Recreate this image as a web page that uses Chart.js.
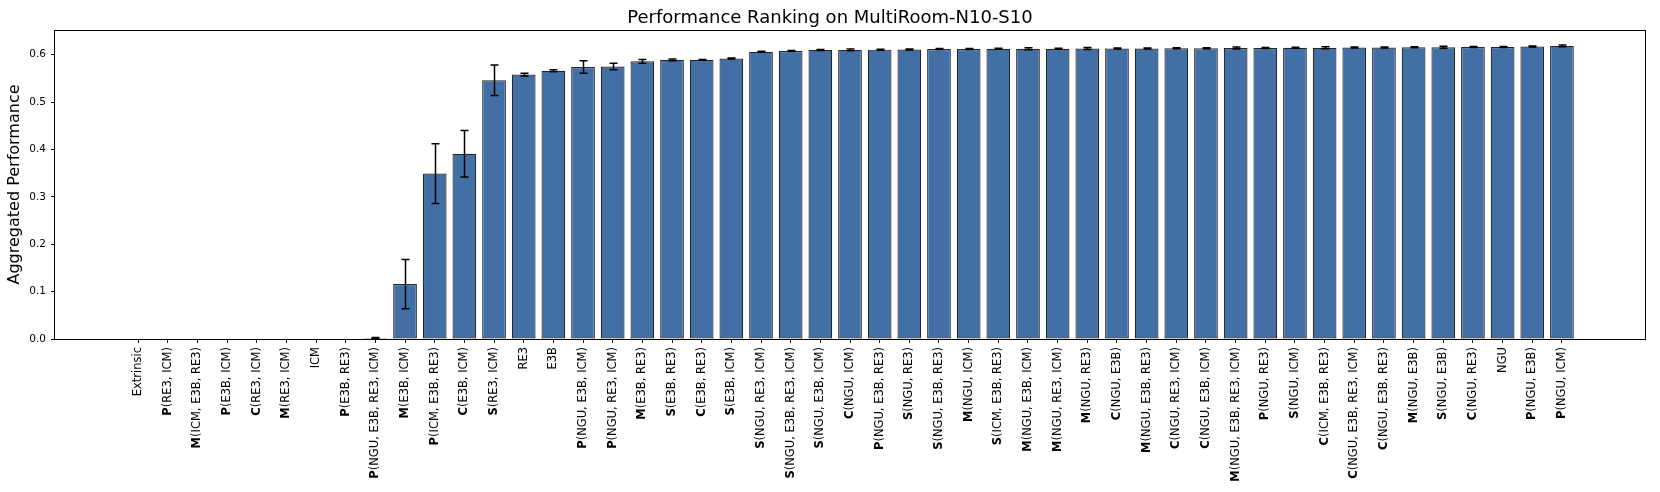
<!doctype html>
<html>
    <head>
        <title>Performance Ranking on MultiRoom-N10-S10</title>
        <script src="https://cdn.jsdelivr.net/npm/chart.js"></script>
        <style>
            body { margin: 0; background: #fff; }
        </style>
    </head>
    <body>
        <canvas id="rankChart" width="1660" height="492"></canvas>
        <script>
            // methods, sorted by aggregated performance
            const methods = [
                "Extrinsic", "P(RE3, ICM)", "M(ICM, E3B, RE3)", "P(E3B, ICM)",
                "C(RE3, ICM)", "M(RE3, ICM)", "ICM", "P(E3B, RE3)",
                "P(NGU, E3B, RE3, ICM)", "M(E3B, ICM)", "P(ICM, E3B, RE3)",
                "C(E3B, ICM)", "S(RE3, ICM)", "RE3", "E3B", "P(NGU, E3B, ICM)",
                "P(NGU, RE3, ICM)", "M(E3B, RE3)", "S(E3B, RE3)", "C(E3B, RE3)",
                "S(E3B, ICM)", "S(NGU, RE3, ICM)", "S(NGU, E3B, RE3, ICM)",
                "S(NGU, E3B, ICM)", "C(NGU, ICM)", "P(NGU, E3B, RE3)",
                "S(NGU, RE3)", "S(NGU, E3B, RE3)", "M(NGU, ICM)",
                "S(ICM, E3B, RE3)", "M(NGU, E3B, ICM)", "M(NGU, RE3, ICM)",
                "M(NGU, RE3)", "C(NGU, E3B)", "M(NGU, E3B, RE3)",
                "C(NGU, RE3, ICM)", "C(NGU, E3B, ICM)", "M(NGU, E3B, RE3, ICM)",
                "P(NGU, RE3)", "S(NGU, ICM)", "C(ICM, E3B, RE3)",
                "C(NGU, E3B, RE3, ICM)", "C(NGU, E3B, RE3)", "M(NGU, E3B)",
                "S(NGU, E3B)", "C(NGU, RE3)", "NGU", "P(NGU, E3B)", "P(NGU, ICM)",
            ];
            const performance = [
                0, 0, 0, 0, 0, 0, 0, 0, 0.002, 0.116,
                0.349, 0.391, 0.546, 0.558, 0.566, 0.574, 0.575, 0.586, 0.589, 0.589,
                0.592, 0.606, 0.6075, 0.61, 0.61, 0.6105, 0.611, 0.612, 0.612, 0.6125,
                0.6125, 0.6125, 0.613, 0.613, 0.613, 0.6135, 0.6135, 0.614, 0.614, 0.6145,
                0.6145, 0.615, 0.615, 0.6155, 0.6155, 0.616, 0.616, 0.617, 0.6185,
            ];
            const errors = [
                0, 0, 0, 0, 0, 0, 0, 0, 0.001, 0.052,
                0.063, 0.049, 0.032, 0.003, 0.002, 0.013, 0.007, 0.004, 0.002, 0.001,
                0.001, 0.001, 0.001, 0.001, 0.002, 0.001, 0.001, 0.001, 0.001, 0.001,
                0.002, 0.001, 0.002, 0.001, 0.001, 0.001, 0.001, 0.002, 0.001, 0.001,
                0.002, 0.001, 0.001, 0.001, 0.002, 0.001, 0.001, 0.001, 0.002,
            ];
            const yTicks = [0, 0.1, 0.2, 0.3, 0.4, 0.5, 0.6];

            const FONT = "'DejaVu Sans', sans-serif";

            // black frame around the plot area
            const frame = {
                id: "frame",
                afterDraw(chart) {
                    const a = chart.chartArea;
                    const c = chart.ctx;
                    c.save();
                    c.strokeStyle = "#000";
                    c.lineWidth = 1;
                    c.strokeRect(Math.round(a.left) - 0.5, Math.round(a.top) + 0.5,
                        Math.round(a.right - a.left) + 1, Math.round(a.bottom - a.top));
                    c.restore();
                },
            };

            // error bars with caps
            const errorBars = {
                id: "errorBars",
                afterDatasetsDraw(chart) {
                    const c = chart.ctx;
                    const x = chart.scales.x;
                    const y = chart.scales.y;
                    c.save();
                    c.strokeStyle = "#000";
                    c.lineWidth = 1.5;
                    performance.forEach((v, i) => {
                        if (!errors[i]) return;
                        const px = Math.round(x.getPixelForValue(i)) + 0.5;
                        const hi = y.getPixelForValue(v + errors[i]);
                        const lo = y.getPixelForValue(v - errors[i]);
                        c.beginPath();
                        c.moveTo(px, hi); c.lineTo(px, lo);
                        c.moveTo(px - 4, hi); c.lineTo(px + 4, hi);
                        c.moveTo(px - 4, lo); c.lineTo(px + 4, lo);
                        c.stroke();
                    });
                    c.restore();
                },
            };

            // rotated x labels, the combiner letter in bold
            const methodLabels = {
                id: "methodLabels",
                afterDraw(chart) {
                    const c = chart.ctx;
                    const x = chart.scales.x;
                    const top = chart.chartArea.bottom + 8;
                    c.save();
                    c.fillStyle = "#000";
                    c.textBaseline = "middle";
                    c.textAlign = "right";
                    methods.forEach((name, i) => {
                        const bold = /^[PMCS]\(/.test(name) ? name[0] : "";
                        const rest = name.slice(bold.length);
                        c.save();
                        c.translate(x.getPixelForValue(i), top);
                        c.rotate(-Math.PI / 2);
                        c.font = "11.5px " + FONT;
                        c.fillText(rest, 0, 0);
                        const w = c.measureText(rest).width;
                        if (bold) {
                            c.font = "bold 11.5px " + FONT;
                            c.fillText(bold, -w, 0);
                        }
                        c.restore();
                    });
                    c.restore();
                },
            };

            const ctx = document.getElementById("rankChart").getContext("2d");
            const chart = new Chart(ctx, {
                type: "bar",
                data: {
                    datasets: [
                        {
                            data: performance.map((v, i) => ({ x: i, y: v })),
                            backgroundColor: "#4270a6",
                            borderColor: "rgba(0, 0, 0, 0.85)",
                            borderWidth: 1.2,
                            borderSkipped: false,
                            categoryPercentage: 1,
                            barPercentage: 0.8,
                        },
                    ],
                },
                options: {
                    responsive: false,
                    animation: false,
                    layout: { padding: { left: 15, right: 15, top: 0, bottom: 149 } },
                    plugins: {
                        legend: { display: false },
                        tooltip: { enabled: false },
                        title: {
                            display: true,
                            text: "Performance Ranking on MultiRoom-N10-S10",
                            color: "#000",
                            font: { family: FONT, size: 18, weight: "normal" },
                            padding: { top: 8, bottom: 0.4 },
                        },
                    },
                    scales: {
                        x: {
                            type: "linear",
                            offset: false,
                            min: -2.8,
                            max: 50.8,
                            afterBuildTicks: (s) => {
                                s.ticks = methods.map((_, i) => ({ value: i }));
                            },
                            ticks: { display: false },
                            grid: {
                                offset: false,
                                drawOnChartArea: false,
                                tickLength: 4,
                                color: "#000",
                            },
                            border: { display: false },
                        },
                        y: {
                            min: 0,
                            max: 0.652,
                            afterBuildTicks: (s) => {
                                s.ticks = yTicks.map((v) => ({ value: v }));
                            },
                            afterFit: (s) => {
                                s.width = 40;
                            },
                            ticks: {
                                color: "#000",
                                padding: 5,
                                font: { family: FONT, size: 10.5 },
                                callback: (v) => v.toFixed(1),
                            },
                            grid: {
                                drawOnChartArea: false,
                                tickLength: 4,
                                color: "#000",
                            },
                            border: { display: false },
                            title: {
                                display: true,
                                text: "Aggregated Performance",
                                color: "#000",
                                font: { family: FONT, size: 16 },
                                padding: { top: -10, bottom: 0 },
                            },
                        },
                    },
                },
                plugins: [errorBars, frame, methodLabels],
            });
        </script>
    </body>
</html>
